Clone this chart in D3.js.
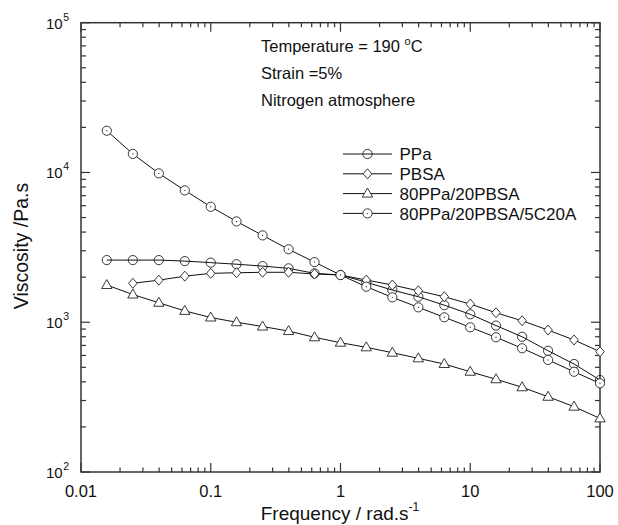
<!DOCTYPE html>
<meta charset="utf-8">
<style>

body {
  margin: 0;
  background: #fff;
}

text {
  font-family: "Liberation Sans", Arial, sans-serif;
  fill: #111;
}

.series {
  fill: none;
  stroke: #111;
  stroke-width: 1px;
}

</style>
<body>
<script src="https://cdnjs.cloudflare.com/ajax/libs/d3/7.8.5/d3.min.js"></script>
<script>

var width = 618,
    height = 525,
    plotLeft = 81,
    plotRight = 600,
    plotTop = 22.7,
    plotBottom = 472;

// angular frequency, rad/s
var freq = [0.0158, 0.0251, 0.0398, 0.0631, 0.1, 0.158, 0.251, 0.398, 0.631, 1,
            1.58, 2.51, 3.98, 6.31, 10, 15.8, 25.1, 39.8, 63.1, 100];

// viscosity, Pa.s
var ppa = [2600, 2600, 2600, 2560, 2500, 2440, 2370, 2290, 2120, 2070,
           1850, 1640, 1480, 1300, 1130, 950, 800, 645, 526, 411];
var pbsa = [null, 1820, 1910, 2030, 2120, 2140, 2155, 2155, 2100, 2066,
            1913, 1773, 1622, 1479, 1322, 1157, 1023, 887, 761, 636];
var blend = [1772, 1531, 1349, 1190, 1075, 1000, 936, 873, 793, 730,
             680, 626, 574, 526, 467, 416, 368, 318, 273, 228];
var nano = [19000, 13300, 9860, 7590, 5900, 4710, 3800, 3070, 2520, 2066,
            1727, 1466, 1257, 1079, 925, 793, 670, 560, 467, 391];

var seriesNames = ["PPa", "PBSA", "80PPa/20PBSA", "80PPa/20PBSA/5C20A"];
var seriesValues = [ppa, pbsa, blend, nano];
var seriesSymbols = ["circle", "diamond", "triangle", "dotcircle"];

var xTicks = [0.01, 0.1, 1, 10, 100],
    xTickLabels = ["0.01", "0.1", "1", "10", "100"],
    yTicks = [1e2, 1e3, 1e4, 1e5],
    yExponents = ["2", "3", "4", "5"];

var notes = ["Temperature = 190 ", "Strain =5%", "Nitrogen atmosphere"];

var x = d3.scaleLog()
    .domain([0.01, 100])
    .range([plotLeft, plotRight]);

var y = d3.scaleLog()
    .domain([1e2, 1e5])
    .range([plotBottom, plotTop]);

var svg = d3.select("body").append("svg")
    .attr("width", width)
    .attr("height", height);

// minor ticks: 2..9 in every decade
function minors(domain) {
  var out = [];
  for (var e = Math.log10(domain[0]); e < Math.log10(domain[1]); e++) {
    for (var m = 2; m < 10; m++) out.push(m * Math.pow(10, e));
  }
  return out;
}

var axisColor = "#333";

var axes = svg.append("g")
    .attr("stroke", axisColor)
    .attr("stroke-width", 1.2);

// bottom + top ticks (inward)
[[plotBottom, -1], [plotTop, 1]].forEach(function(p) {
  axes.selectAll(null)
      .data(xTicks.map(function(d) { return [d, 9]; })
        .concat(minors(x.domain()).map(function(d) { return [d, 4.5]; })))
    .enter().append("line")
      .attr("x1", function(d) { return x(d[0]); })
      .attr("x2", function(d) { return x(d[0]); })
      .attr("y1", p[0])
      .attr("y2", function(d) { return p[0] + p[1] * d[1]; });
});

// left + right ticks (inward)
[[plotLeft, 1], [plotRight, -1]].forEach(function(p) {
  axes.selectAll(null)
      .data(yTicks.map(function(d) { return [d, 9]; })
        .concat(minors(y.domain()).map(function(d) { return [d, 5]; })))
    .enter().append("line")
      .attr("y1", function(d) { return y(d[0]); })
      .attr("y2", function(d) { return y(d[0]); })
      .attr("x1", p[0])
      .attr("x2", function(d) { return p[0] + p[1] * d[1]; });
});

axes.append("rect")
    .attr("x", plotLeft)
    .attr("y", plotTop)
    .attr("width", plotRight - plotLeft)
    .attr("height", plotBottom - plotTop)
    .attr("fill", "none")
    .attr("stroke-width", 1.5);

// tick labels
svg.selectAll(".xlabel")
    .data(xTicks)
  .enter().append("text")
    .attr("class", "xlabel")
    .attr("x", function(d) { return x(d); })
    .attr("y", 497)
    .attr("text-anchor", "middle")
    .style("font-size", "16.5px")
    .text(function(d, i) { return xTickLabels[i]; });

var ylab = svg.selectAll(".ylabel")
    .data(yTicks)
  .enter().append("text")
    .attr("class", "ylabel")
    .attr("x", 46)
    .attr("y", function(d) { return y(d) + 6; })
    .style("font-size", "15px");

ylab.append("tspan").text("10");
ylab.append("tspan")
    .attr("dy", -8)
    .attr("dx", 0.5)
    .style("font-size", "10.5px")
    .text(function(d, i) { return yExponents[i]; });

// axis titles
var xt = svg.append("text")
    .attr("x", 340)
    .attr("y", 520)
    .attr("text-anchor", "middle")
    .style("font-size", "19px");
xt.append("tspan").text("Frequency / rad.s");
xt.append("tspan").attr("dy", -9).style("font-size", "12px").text("-1");

svg.append("text")
    .attr("transform", "translate(28,246) rotate(-90)")
    .attr("text-anchor", "middle")
    .style("font-size", "19.5px")
    .text("Viscosity /Pa.s");

// series
var line = d3.line()
    .defined(function(d) { return d[1] != null; })
    .x(function(d) { return x(d[0]); })
    .y(function(d) { return y(d[1]); });

var plot = svg.append("g");

function drawSymbol(g, type, cx, cy) {
  if (type == "circle" || type == "dotcircle") {
    g.append("circle")
        .attr("cx", cx).attr("cy", cy).attr("r", 4.6)
        .attr("fill", type == "circle" ? "none" : "#fff")
        .attr("stroke", "#222").attr("stroke-width", 0.9);
    if (type == "dotcircle")
      g.append("circle")
          .attr("cx", cx).attr("cy", cy).attr("r", 0.7)
          .attr("fill", "#444");
  } else if (type == "diamond") {
    g.append("path")
        .attr("d", "M" + cx + "," + (cy - 5) + "L" + (cx + 4.3) + "," + cy +
                   "L" + cx + "," + (cy + 5) + "L" + (cx - 4.3) + "," + cy + "Z")
        .attr("fill", "#fff")
        .attr("stroke", "#222").attr("stroke-width", 0.9);
  } else {
    g.append("path")
        .attr("d", "M" + cx + "," + (cy - 5.5) + "L" + (cx + 5.2) + "," + (cy + 3.5) +
                   "L" + (cx - 5.2) + "," + (cy + 3.5) + "Z")
        .attr("fill", "#fff")
        .attr("stroke", "#222").attr("stroke-width", 0.9);
  }
}

seriesValues.forEach(function(vals, i) {
  var pts = freq.map(function(f, j) { return [f, vals[j]]; });
  plot.append("path")
      .datum(pts)
      .attr("class", "series")
      .attr("d", line);
  var g = plot.append("g");
  pts.filter(function(d) { return d[1] != null; }).forEach(function(d) {
    drawSymbol(g, seriesSymbols[i], x(d[0]), y(d[1]));
  });
});

// annotation
var note = svg.selectAll(".note")
    .data(notes)
  .enter().append("text")
    .attr("class", "note")
    .attr("x", 261)
    .attr("y", function(d, i) { return 51.5 + i * 27.3; })
    .style("font-size", "16.5px")
    .text(function(d) { return d; });

note.filter(function(d, i) { return i == 0; })
  .append("tspan").attr("dy", -7).style("font-size", "11px").text("o");
note.filter(function(d, i) { return i == 0; })
  .append("tspan").attr("dy", 7).text("C");

// legend
var legend = svg.append("g");

seriesNames.forEach(function(name, i) {
  var cy = 154 + i * 19.8;
  var g = legend.append("g");
  g.append("line")
      .attr("x1", 343).attr("x2", 392)
      .attr("y1", cy).attr("y2", cy)
      .attr("stroke", "#111").attr("stroke-width", 1);
  drawSymbol(g, seriesSymbols[i], 367.5, cy);
  g.append("text")
      .attr("x", 399.5)
      .attr("y", cy + 6.2)
      .style("font-size", "17px")
      .text(name);
});

</script>
